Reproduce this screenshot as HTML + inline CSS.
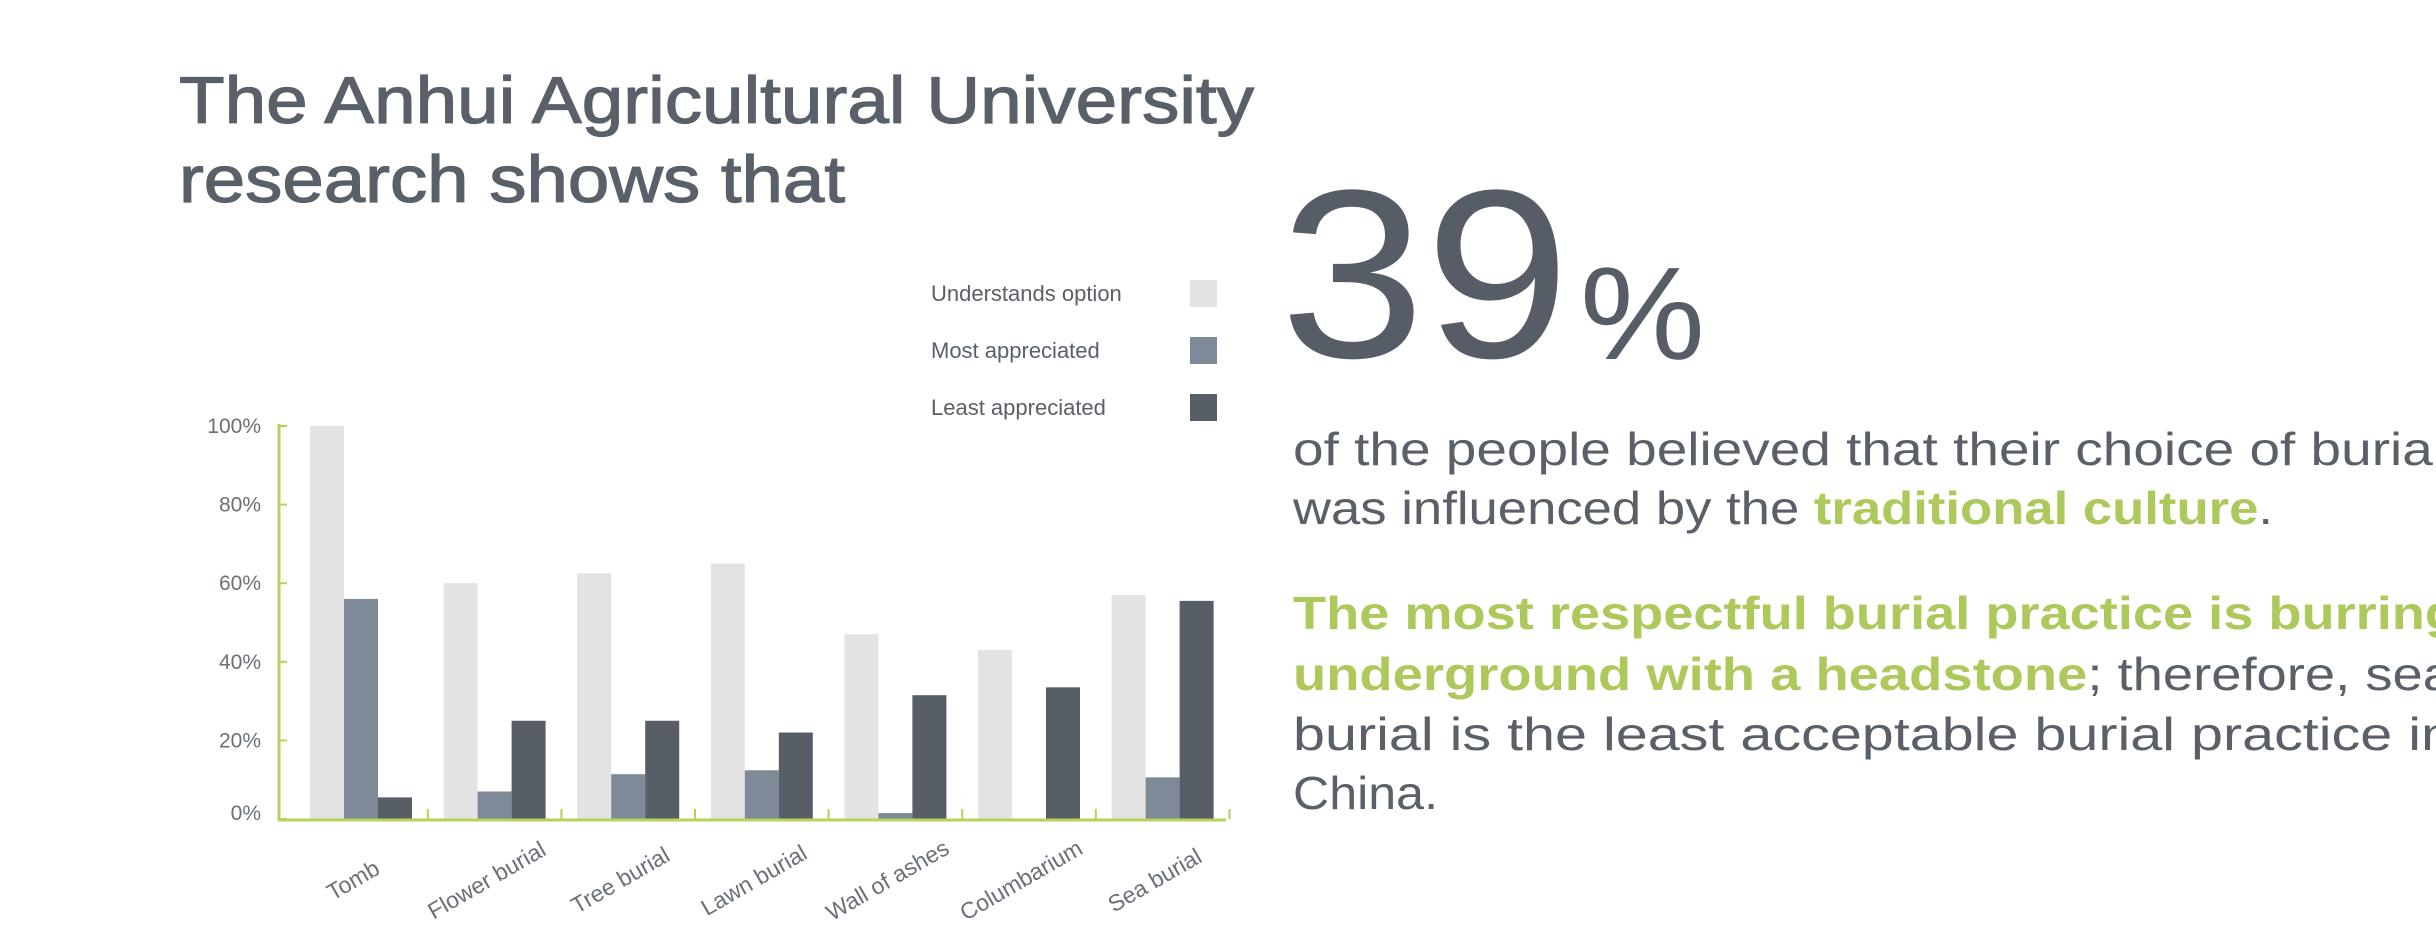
<!DOCTYPE html>
<html><head><meta charset="utf-8"><style>
html,body{margin:0;padding:0;background:#fff;width:2436px;height:949px;overflow:hidden}
svg{display:block;font-family:"Liberation Sans",sans-serif}
</style></head><body>
<svg id="chart" width="2436" height="949" viewBox="0 0 2436 949" xmlns="http://www.w3.org/2000/svg">
<g fill="#596069" font-size="66">
<text x="179" y="123" textLength="1075" lengthAdjust="spacingAndGlyphs" stroke="#596069" stroke-width="1.2">The Anhui Agricultural University</text>
<text x="179" y="202" textLength="666" lengthAdjust="spacingAndGlyphs" stroke="#596069" stroke-width="1.2">research shows that</text>
</g>
<text x="1280" y="357" font-size="240" fill="#565d66" textLength="290" lengthAdjust="spacingAndGlyphs">39</text>
<text x="1580" y="359" font-size="132" fill="#565d66" textLength="125" lengthAdjust="spacingAndGlyphs">%</text>
<g font-size="46" fill="#5a6068">
<text x="1293" y="465" textLength="1152" lengthAdjust="spacingAndGlyphs">of the people believed that their choice of burial</text>
<text x="1293" y="524" textLength="980" lengthAdjust="spacingAndGlyphs">was influenced by the <tspan fill="#adc95c" font-weight="bold">traditional culture</tspan>.</text>
<text x="1293" y="629" textLength="1165" lengthAdjust="spacingAndGlyphs" fill="#adc95c" font-weight="bold">The most respectful burial practice is burring</text>
<text x="1293" y="690" textLength="1160" lengthAdjust="spacingAndGlyphs"><tspan fill="#adc95c" font-weight="bold">underground with a headstone</tspan>; therefore, sea</text>
<text x="1293" y="750" textLength="1160" lengthAdjust="spacingAndGlyphs">burial is the least acceptable burial practice in</text>
<text x="1293" y="809" textLength="145" lengthAdjust="spacingAndGlyphs">China.</text>
</g>
<g id="plot"></g>
</svg>
<script>
const categories = ["Tomb","Flower burial","Tree burial","Lawn burial","Wall of ashes","Columbarium","Sea burial"];
const understands = [100,60,62.5,65,47,43,57];
const mostAppreciated = [56,7,11.4,12.4,1.5,0,10.6];
const leastAppreciated = [5.5,25,25,22,31.5,33.5,55.5];
const seriesNames = ["Understands option","Most appreciated","Least appreciated"];
const yTicks = [0,20,40,60,80,100];

const NS="http://www.w3.org/2000/svg";
const plot=document.getElementById('plot');
const colors=["#e3e3e3","#7f8a99","#575e66"];
const y0=819,y100=426,axisX=279,axisEnd=1226,firstX=310,pitch=133.6,bw=34;
const gap=pitch-3*bw;
const yS=v=>y0-(v/100)*(y0-y100);
const xS=(i,s)=>firstX+i*pitch+s*bw;
function mk(tag,attrs){const e=document.createElementNS(NS,tag);for(const k in attrs)e.setAttribute(k,attrs[k]);plot.appendChild(e);return e;}
const series=[understands,mostAppreciated,leastAppreciated];
series.forEach((arr,s)=>{arr.forEach((v,i)=>{
  const r=mk('rect',{x:xS(i,s),y:yS(v),width:bw,height:y0-yS(v),fill:colors[s]});
  
  
});});
let a=mk('line',{x1:axisX,y1:yS(100)-2,x2:axisX,y2:y0+2,stroke:"#b5d35a","stroke-width":3});


a=mk('line',{x1:axisX-1,y1:y0+1,x2:axisEnd,y2:y0+1,stroke:"#b5d35a","stroke-width":3});


yTicks.forEach(t=>{
  const tk=mk('line',{x1:axisX,y1:yS(t),x2:axisX+8,y2:yS(t),stroke:"#b5d35a","stroke-width":2});
  
  
  const tx=mk('text',{x:261,y:yS(t)+7 - (t===0?6:0),"text-anchor":"end","font-size":21,fill:"#6a7078"});
  tx.textContent=t+"%";
  
  
});
categories.forEach((c,i)=>{
  const gx=xS(i,3)+gap/2;
  const tk=mk('line',{x1:gx,y1:y0-10,x2:gx,y2:y0,stroke:"#b5d35a","stroke-width":2});
  
  
  const lx=xS(i,1)+bw/2-8, ly=888;
  const t=mk('text',{x:lx,y:ly,"text-anchor":"middle","font-size":23,fill:"#6a7078",transform:`rotate(-30 ${lx} ${ly-8})`});
  t.textContent=c;
  
  
});
seriesNames.forEach((n,s)=>{
  const ly=301+s*57;
  const t=mk('text',{x:931,y:ly,"font-size":22,fill:"#5a6068"});
  t.textContent=n;
  
  
  const r=mk('rect',{x:1190,y:ly-21,width:27,height:27,fill:colors[s]});
  
  
});
</script>
</body></html>
